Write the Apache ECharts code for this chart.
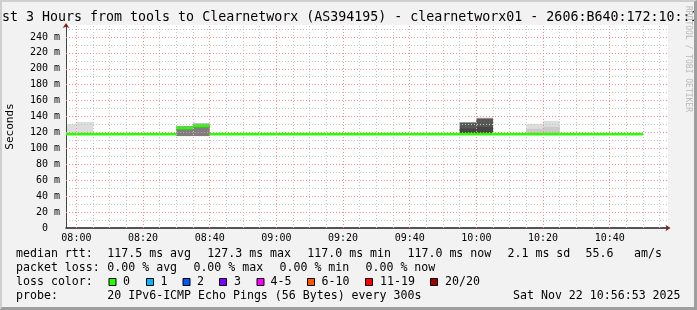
<!DOCTYPE html>
<html><head><meta charset="utf-8">
<script src="https://cdn.jsdelivr.net/npm/echarts@6/dist/echarts.min.js"></script>
<style>
html,body{margin:0;padding:0;background:#f2f2f2;}
#wrap{position:relative;width:697px;height:310px;overflow:hidden;}
#chart{width:697px;height:310px;}
#frame{position:absolute;left:0;top:0;width:697px;height:310px;box-sizing:border-box;border-top:2px solid #cfcfcf;border-left:2px solid #cfcfcf;border-right:3px solid #9e9e9e;border-bottom:3px solid #9e9e9e;pointer-events:none;}
</style></head><body>
<div id="wrap"><div id="chart"></div><div id="frame"></div></div>
<script>
// ---------------- data ----------------
const titleText = 'st 3 Hours from tools to Clearnetworx (AS394195) - clearnetworx01 - 2606:B640:172:10::1';
const yAxisName = 'Seconds';
const watermarkText = 'RRDTOOL / TOBI OETIKER';
const rangeStart = '07:56:53';
const rangeEnd = '10:56:53';
const stepMinutes = 5;
const xTickLabels = ['08:00','08:20','08:40','09:00','09:20','09:40','10:00','10:20','10:40'];
const yTickValues = [0,20,40,60,80,100,120,140,160,180,200,220,240];

const medianStart = ['07:55','08:00','08:05','08:10','08:15','08:20','08:25','08:30','08:35','08:40',
  '08:45','08:50','08:55','09:00','09:05','09:10','09:15','09:20','09:25','09:30','09:35','09:40',
  '09:45','09:50','09:55','10:00','10:05','10:10','10:15','10:20','10:25','10:30','10:35','10:40','10:45'];
const medianRtt = [117.0,117.0,117.0,117.0,117.0,117.0,117.0,124.7,127.3,117.0,
  117.0,117.0,117.0,117.0,117.0,117.0,117.0,117.0,117.0,117.0,117.0,117.0,
  117.0,117.0,117.0,117.0,117.0,117.0,117.0,117.0,117.0,117.0,117.0,117.0,117.0];
const medianLoss = [0,0,0,0,0,0,0,0,0,0,0,0,0,0,0,0,0,0,0,0,0,0,0,0,0,0,0,0,0,0,0,0,0,0,0];

const smokeStart      = ['07:55','08:00','08:30','08:35','09:55','10:00','10:15','10:20'];
const smokeLow        = [117.0, 117.0, 115.5, 115.5, 117.0, 117.0, 117.0, 117.0];
const smokeHighOuter  = [130.4, 133.3, 128.0, 131.5, 133.0, 138.4, 130.8, 134.6];
const smokeShadeOuter = [1, 1, 5, 4, 5, 5, 1, 1];
const smokeHighMid    = [null, null, 126.5, 129.5, 132.0, 137.0, 124.5, 127.0];
const smokeShadeMid   = [null, null, 6, 6, 8, 8, 2, 2];
const smokeHighInner  = [null, null, null, null, 125.0, 127.0, null, null];
const smokeShadeInner = [null, null, null, null, 9, 9, null, null];

const lossColorLabels = ['0','1','2','3','4-5','6-10','11-19','20/20'];
const lossColorMax    = [0, 1, 2, 3, 5, 10, 19, 20];
const lossColors      = ['#26ff00','#00b8ff','#0059ff','#7e00ff','#ff00ff','#ff5500','#ff0000','#a00000'];

const rttStatNames  = ['avg','max','min','now'];
const rttStatValues = [117.5, 127.3, 117.0, 117.0];
const rttSd = 2.1;
const rttAmS = 55.6;
const lossStatNames  = ['avg','max','min','now'];
const lossStatValues = [0, 0, 0, 0];
const probeText = '20 IPv6-ICMP Echo Pings (56 Bytes) every 300s';
const stampText = 'Sat Nov 22 10:56:53 2025';

// ---------------- layout / style ----------------
const MONO = '"DejaVu Sans Mono", monospace';
const legendFont = '11.6px ' + MONO;
const rttX = [107.3, 207.3, 307.3, 407.5];
const lossX = [107.3, 193.4, 279.5, 365.5];
const boxX = [108.5, 146, 182.5, 219, 256.5, 307, 365, 430];
const boxLabelX = [123, 160.5, 197, 234, 270.5, 321.5, 380, 445];
const lineY = [254, 268, 282, 296];
const majorGridStyle = { color: '#ee9090', type: [1,2], width: 1 };
const minorGridStyle = { color: '#c4c4c4', type: [1,2], width: 1 };

function toMin(s){ const p = s.split(':').map(Number); return p[0]*60 + p[1] + (p[2]||0)/60; }
function fmtMin(v){ const h = Math.floor(v/60), m = Math.round(v - h*60); return String(h).padStart(2,'0') + ':' + String(m).padStart(2,'0'); }
function shadeColor(i){ const g = Math.floor(190/10*(10-i)) + 50; const h = g.toString(16).padStart(2,'0'); return '#' + h + h + h; }
function lossColor(l){ for (let i=0;i<lossColorMax.length;i++){ if (l <= lossColorMax[i]) return lossColors[i]; } return lossColors[lossColors.length-1]; }

const xMin = toMin(rangeStart);
const xMax = toMin(rangeEnd) + 0.6;

const smokeData = [];
[[smokeHighOuter, smokeShadeOuter],[smokeHighMid, smokeShadeMid],[smokeHighInner, smokeShadeInner]].forEach(([hi, sh]) => {
  smokeStart.forEach((t, i) => {
    if (hi[i] != null) { const s = toMin(t); smokeData.push([s, s + stepMinutes, smokeLow[i], hi[i], sh[i]]); }
  });
});
const medianData = medianStart.map((t, i) => { const s = toMin(t); return [s, s + stepMinutes, medianRtt[i], medianLoss[i]]; });

// vertical gridlines
const majorX = xTickLabels.map(toMin);
const vLines = [];
for (let m = Math.ceil(xMin/stepMinutes)*stepMinutes; m <= xMax; m += stepMinutes) {
  const isMajor = majorX.indexOf(m) >= 0;
  vLines.push({ xAxis: m, lineStyle: isMajor ? majorGridStyle : minorGridStyle });
}

// ---------------- graphics (title, legend text) ----------------
const graphics = [];
function addText(x, y, text, font, fill, extra){
  graphics.push(Object.assign({ type:'text', x:x, y:y, silent:true, z:10,
    style:{ text:text, font:font, fill:fill||'#000', verticalAlign:'middle', align:'left' } }, extra||{}));
}
addText(2, 18, titleText, '13.3px ' + MONO, '#000');
graphics.push({ type:'text', x:688, y:59, rotation:-Math.PI/2, silent:true, z:10,
  style:{ text: watermarkText, font:'8px ' + MONO, fill:'#b8b8b8', align:'center', verticalAlign:'middle' } });

addText(16, lineY[0], 'median rtt:', legendFont);
rttStatValues.forEach((v, i) => addText(rttX[i], lineY[0], v.toFixed(1) + ' ms ' + rttStatNames[i], legendFont));
addText(507.5, lineY[0], rttSd.toFixed(1) + ' ms sd', legendFont);
addText(585.5, lineY[0], rttAmS.toFixed(1), legendFont);
addText(634, lineY[0], 'am/s', legendFont);

addText(16, lineY[1], 'packet loss:', legendFont);
lossStatValues.forEach((v, i) => addText(lossX[i], lineY[1], v.toFixed(2) + ' % ' + lossStatNames[i], legendFont));

addText(16, lineY[2], 'loss color:', legendFont);
lossColorLabels.forEach((lab, i) => {
  graphics.push({ type:'rect', silent:true, z:10, shape:{ x: boxX[i] + 0.5, y: lineY[2] - 3.5, width: 7, height: 7 },
    style:{ fill: lossColors[i], stroke:'#000', lineWidth:1 } });
  addText(boxLabelX[i], lineY[2], lab, legendFont);
});

addText(16, lineY[3], 'probe:', legendFont);
addText(107.3, lineY[3], probeText, legendFont);
addText(513, lineY[3], stampText, legendFont);

// ---------------- chart ----------------
const chart = echarts.init(document.getElementById('chart'), null, { renderer: 'canvas' });
const axisBase = { type:'value', min: xMin, max: xMax, gridIndex:0 };
chart.setOption({
  animation: false,
  backgroundColor: '#f2f2f2',
  grid: { left: 66, right: 29, top: 25, bottom: 82, show: true, backgroundColor: '#ffffff', borderWidth: 0, containLabel: false, outerBoundsMode: 'none' },
  xAxis: [
    Object.assign({}, axisBase, {
      position: 'bottom',
      axisLine: { show: true, onZero: false, lineStyle: { color: '#1f1f1f', width: 1.5 } },
      axisTick: { show: false },
      splitLine: { show: false },
      axisLabel: { show: true, customValues: majorX, formatter: v => fmtMin(v), color: '#000', fontFamily: 'DejaVu Sans Mono', fontSize: 10, margin: 5 }
    }),
    Object.assign({}, axisBase, {
      position: 'bottom',
      axisLine: { show: true, onZero: false, symbol: ['none','arrow'], symbolSize: [5,5], symbolOffset: [0, 2.5], lineStyle: { color: '#801f1f', width: 0 } },
      axisTick: { show: false }, axisLabel: { show: false }, splitLine: { show: false }
    })
  ],
  yAxis: [
    { type:'value', min:0, max:255, interval:10, position:'left', z: 2,
      axisLine: { show: true, onZero: false, lineStyle: { color: '#444', width: 1 } },
      axisTick: { show: false }, axisLabel: { show: false },
      splitLine: { show: true, showMinLine: false, showMaxLine: false, lineStyle: minorGridStyle }
    },
    { type:'value', min:0, max:255, interval:20, position:'left', offset: 0, z: 2.1,
      name: yAxisName, nameLocation: 'middle', nameRotate: 90, nameGap: 50,
      nameTextStyle: { color: '#000', fontFamily: 'DejaVu Sans Mono', fontSize: 11 },
      axisLine: { show: true, onZero: false, symbol: ['none','arrow'], symbolSize: [5,5], symbolOffset: [0, 2], lineStyle: { color: '#801f1f', width: 0 } },
      axisTick: { show: false },
      axisLabel: { show: true, showMaxLabel: false, margin: 6, color: '#000', fontFamily: 'DejaVu Sans Mono', fontSize: 10,
        formatter: v => (v === 0 ? '0  ' : (yTickValues.indexOf(v) >= 0 ? v + ' m' : '')) },
      splitLine: { show: true, showMinLine: false, showMaxLine: false, lineStyle: majorGridStyle }
    }
  ],
  series: [
    { type: 'custom', name: 'smoke', z: 1, xAxisIndex: 0, yAxisIndex: 0, data: smokeData,
      encode: { x: [0,1], y: [2,3] },
      renderItem: function (params, api) {
        const a = api.coord([api.value(0), api.value(3)]);
        const b = api.coord([api.value(1), api.value(2)]);
        const r = echarts.graphic.clipRectByRect({ x: a[0], y: a[1], width: b[0]-a[0], height: b[1]-a[1] }, params.coordSys);
        return r && { type: 'rect', shape: r, style: { fill: shadeColor(api.value(4)) } };
      }
    },
    { type: 'line', name: 'grid', data: [], xAxisIndex: 0, yAxisIndex: 0, silent: true,
      markLine: { silent: true, z: 2, symbol: ['none','none'], animation: false, label: { show: false }, data: vLines }
    },
    { type: 'custom', name: 'median', z: 3, xAxisIndex: 0, yAxisIndex: 0, data: medianData,
      encode: { x: [0,1], y: 2 },
      renderItem: function (params, api) {
        const a = api.coord([api.value(0), api.value(2)]);
        const b = api.coord([api.value(1), api.value(2)]);
        const r = echarts.graphic.clipRectByRect({ x: a[0], y: a[1] - 2, width: b[0]-a[0], height: 2.6 }, params.coordSys);
        return r && { type: 'rect', shape: r, style: { fill: lossColor(api.value(3)) } };
      }
    }
  ],
  graphic: graphics
});
</script>
</body></html>
